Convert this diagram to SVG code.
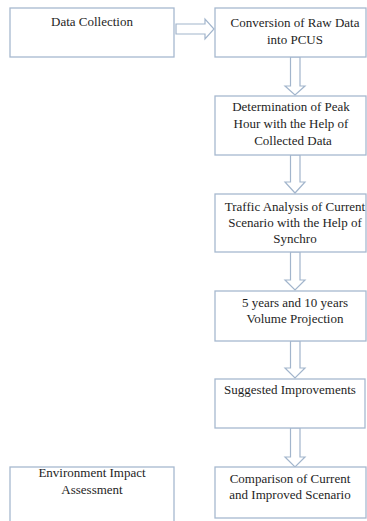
<svg xmlns="http://www.w3.org/2000/svg" width="367" height="521" viewBox="0 0 367 521">
<style>
.box{fill:#ffffff;stroke:#a7b9cf;stroke-width:1.3}
.arr{fill:#ffffff;stroke:#a2b5cc;stroke-width:1.2;stroke-linejoin:miter}
.t{font-family:'Liberation Serif','DejaVu Serif',serif;font-size:13px;fill:#1e1e1e;text-anchor:middle}
</style>
<rect width="367" height="521" fill="#ffffff"/>
<g id="connectors">
<polygon class="arr" points="176,24 205,24 205,19 214,29 205,39 205,34 176,34"/>
<polygon class="arr" points="290.5,57 300,57 300,86 305,86 295,95 285,86 290.5,86"/>
<polygon class="arr" points="290.5,155 300,155 300,182 305,182 295,193 285,182 290.5,182"/>
<polygon class="arr" points="290.5,252 300,252 300,280 305,280 295,290 285,280 290.5,280"/>
<polygon class="arr" points="290.5,341 300,341 300,368 305,368 295,378 285,368 290.5,368"/>
<polygon class="arr" points="290.5,428 300,428 300,457 305,457 295,467 285,457 290.5,457"/>
</g>
<g class="t" font-family="Liberation Serif, serif">
<g id="n-data-collection">
<rect class="box" x="10" y="8" width="164" height="49"/>
<text x="92" y="26">Data Collection</text>
</g>
<g id="n-conversion">
<rect class="box" x="215" y="8" width="151" height="49"/>
<text x="295" y="27">Conversion of Raw Data</text>
<text x="295" y="44">into PCUS</text>
</g>
<g id="n-peak-hour">
<rect class="box" x="215" y="96" width="151" height="59"/>
<text x="291" y="111">Determination of Peak</text>
<text x="291" y="128">Hour with the Help of</text>
<text x="293" y="145">Collected Data</text>
</g>
<g id="n-traffic-analysis">
<rect class="box" x="215" y="194" width="151" height="58"/>
<text x="295" y="211">Traffic Analysis of Current</text>
<text x="295" y="227">Scenario with the Help of</text>
<text x="295" y="243">Synchro</text>
</g>
<g id="n-projection">
<rect class="box" x="215" y="291" width="151" height="50"/>
<text x="295" y="307">5 years and 10 years</text>
<text x="295" y="323">Volume Projection</text>
</g>
<g id="n-improvements">
<rect class="box" x="215" y="379" width="150" height="49"/>
<text x="290" y="394">Suggested Improvements</text>
</g>
<g id="n-comparison">
<rect class="box" x="215" y="467" width="151" height="51"/>
<text x="290" y="483">Comparison of Current</text>
<text x="290" y="499">and Improved Scenario</text>
</g>
<g id="n-environment">
<rect class="box" x="10" y="467" width="164" height="70"/>
<text x="92" y="477">Environment Impact</text>
<text x="92" y="494">Assessment</text>
</g>
</g>
</svg>
